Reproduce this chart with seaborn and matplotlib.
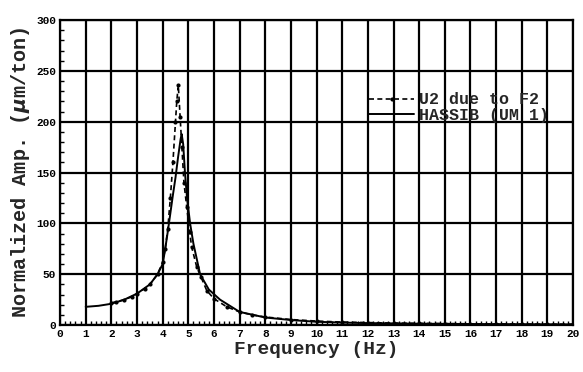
import matplotlib
matplotlib.use("Agg")
import matplotlib.pyplot as plt
from matplotlib.ticker import MultipleLocator
import pandas as pd
import seaborn as sns

# U2 due to F2 (measured, dashed with dots)
u2_freq = [2.0, 2.2, 2.5, 2.8, 3.0, 3.3, 3.5, 3.8, 4.0, 4.1, 4.2, 4.3, 4.4,
           4.5, 4.55, 4.61, 4.68, 4.75, 4.83, 4.94, 5.05, 5.13, 5.33, 5.5,
           5.72, 6.0, 6.5, 7.0, 7.5, 8.0, 9.0, 10.0, 11.0, 12.0, 13.0, 14.0,
           15.0, 16.0, 17.0, 18.0, 19.0, 20.0]
u2_amp = [22, 23, 25, 28, 31, 36, 40, 50, 62, 75, 95, 125, 160,
          200, 220, 236, 205, 175, 140, 116, 92, 77, 57, 47,
          34, 26, 18, 13, 10, 8, 5.5, 4, 3, 2.5, 2, 1.7,
          1.5, 1.3, 1.1, 1.0, 0.9, 0.8]

# HASSIB (UM 1) (computed, solid)
hassib_freq = [1.0, 1.5, 2.0, 2.5, 3.0, 3.5, 3.8, 4.0, 4.1, 4.2, 4.3, 4.4,
               4.5, 4.6, 4.7, 4.74, 4.8, 4.87, 4.95, 5.07, 5.2, 5.46, 5.8,
               6.24, 7.0, 8.0, 9.0, 10.0, 11.0, 12.0, 14.0, 16.0, 18.0, 20.0]
hassib_amp = [18, 19, 21, 25, 31, 40, 50, 60, 75, 92, 110, 128,
              145, 165, 183, 188, 178, 150, 125, 100, 80, 50, 35,
              25, 13, 7.5, 5, 3.3, 2.5, 2, 1.4, 1.1, 0.9, 0.7]

u2_df = pd.DataFrame({"freq": u2_freq, "amp": u2_amp})
hassib_df = pd.DataFrame({"freq": hassib_freq, "amp": hassib_amp})

sns.set_theme(style="white")
plt.rcParams["font.family"] = ["Liberation Mono", "DejaVu Sans"]
plt.rcParams["font.weight"] = "bold"

fig = plt.figure(figsize=(5.83, 3.72), dpi=100)
ax = fig.add_axes([0.103, 0.126, 0.88, 0.82])

sns.lineplot(data=u2_df, x="freq", y="amp", ax=ax, color="black",
             linestyle=(0, (3, 2)), linewidth=1.2, marker="o", markersize=3,
             markeredgewidth=0, label="U2 due to F2")
sns.lineplot(data=hassib_df, x="freq", y="amp", ax=ax, color="black",
             linewidth=1.4, label="HASSIB (UM 1)")

ax.set_xlim(0, 20)
ax.set_ylim(0, 300)
ax.xaxis.set_major_locator(MultipleLocator(1))
ax.xaxis.set_minor_locator(MultipleLocator(0.2))
ax.yaxis.set_major_locator(MultipleLocator(50))
ax.yaxis.set_minor_locator(MultipleLocator(10))
ax.grid(True, which="major", color="black", linewidth=1.6)
ax.tick_params(which="major", direction="in", length=5, width=1.2,
               labelsize=8, pad=3, colors="black")
ax.tick_params(which="minor", direction="in", length=3, width=1,
               colors="black")
ax.tick_params(axis="x", which="both", bottom=True)
ax.tick_params(axis="y", which="both", left=True)
for sp in ax.spines.values():
    sp.set_color("black")
    sp.set_linewidth(1.6)

ax.set_xlabel("Frequency (Hz)", fontsize=14, fontweight="bold", labelpad=1)
ax.set_ylabel("Normalized Amp. ($\\mu$m/ton)", fontsize=14.5,
              fontweight="bold", labelpad=3)

leg = ax.legend(loc="upper left", bbox_to_anchor=(0.59, 0.785), frameon=False,
                fontsize=12, handlelength=2.7, handletextpad=0.3,
                labelspacing=0.05, borderaxespad=0)

fig.savefig("out.png", dpi=100)
